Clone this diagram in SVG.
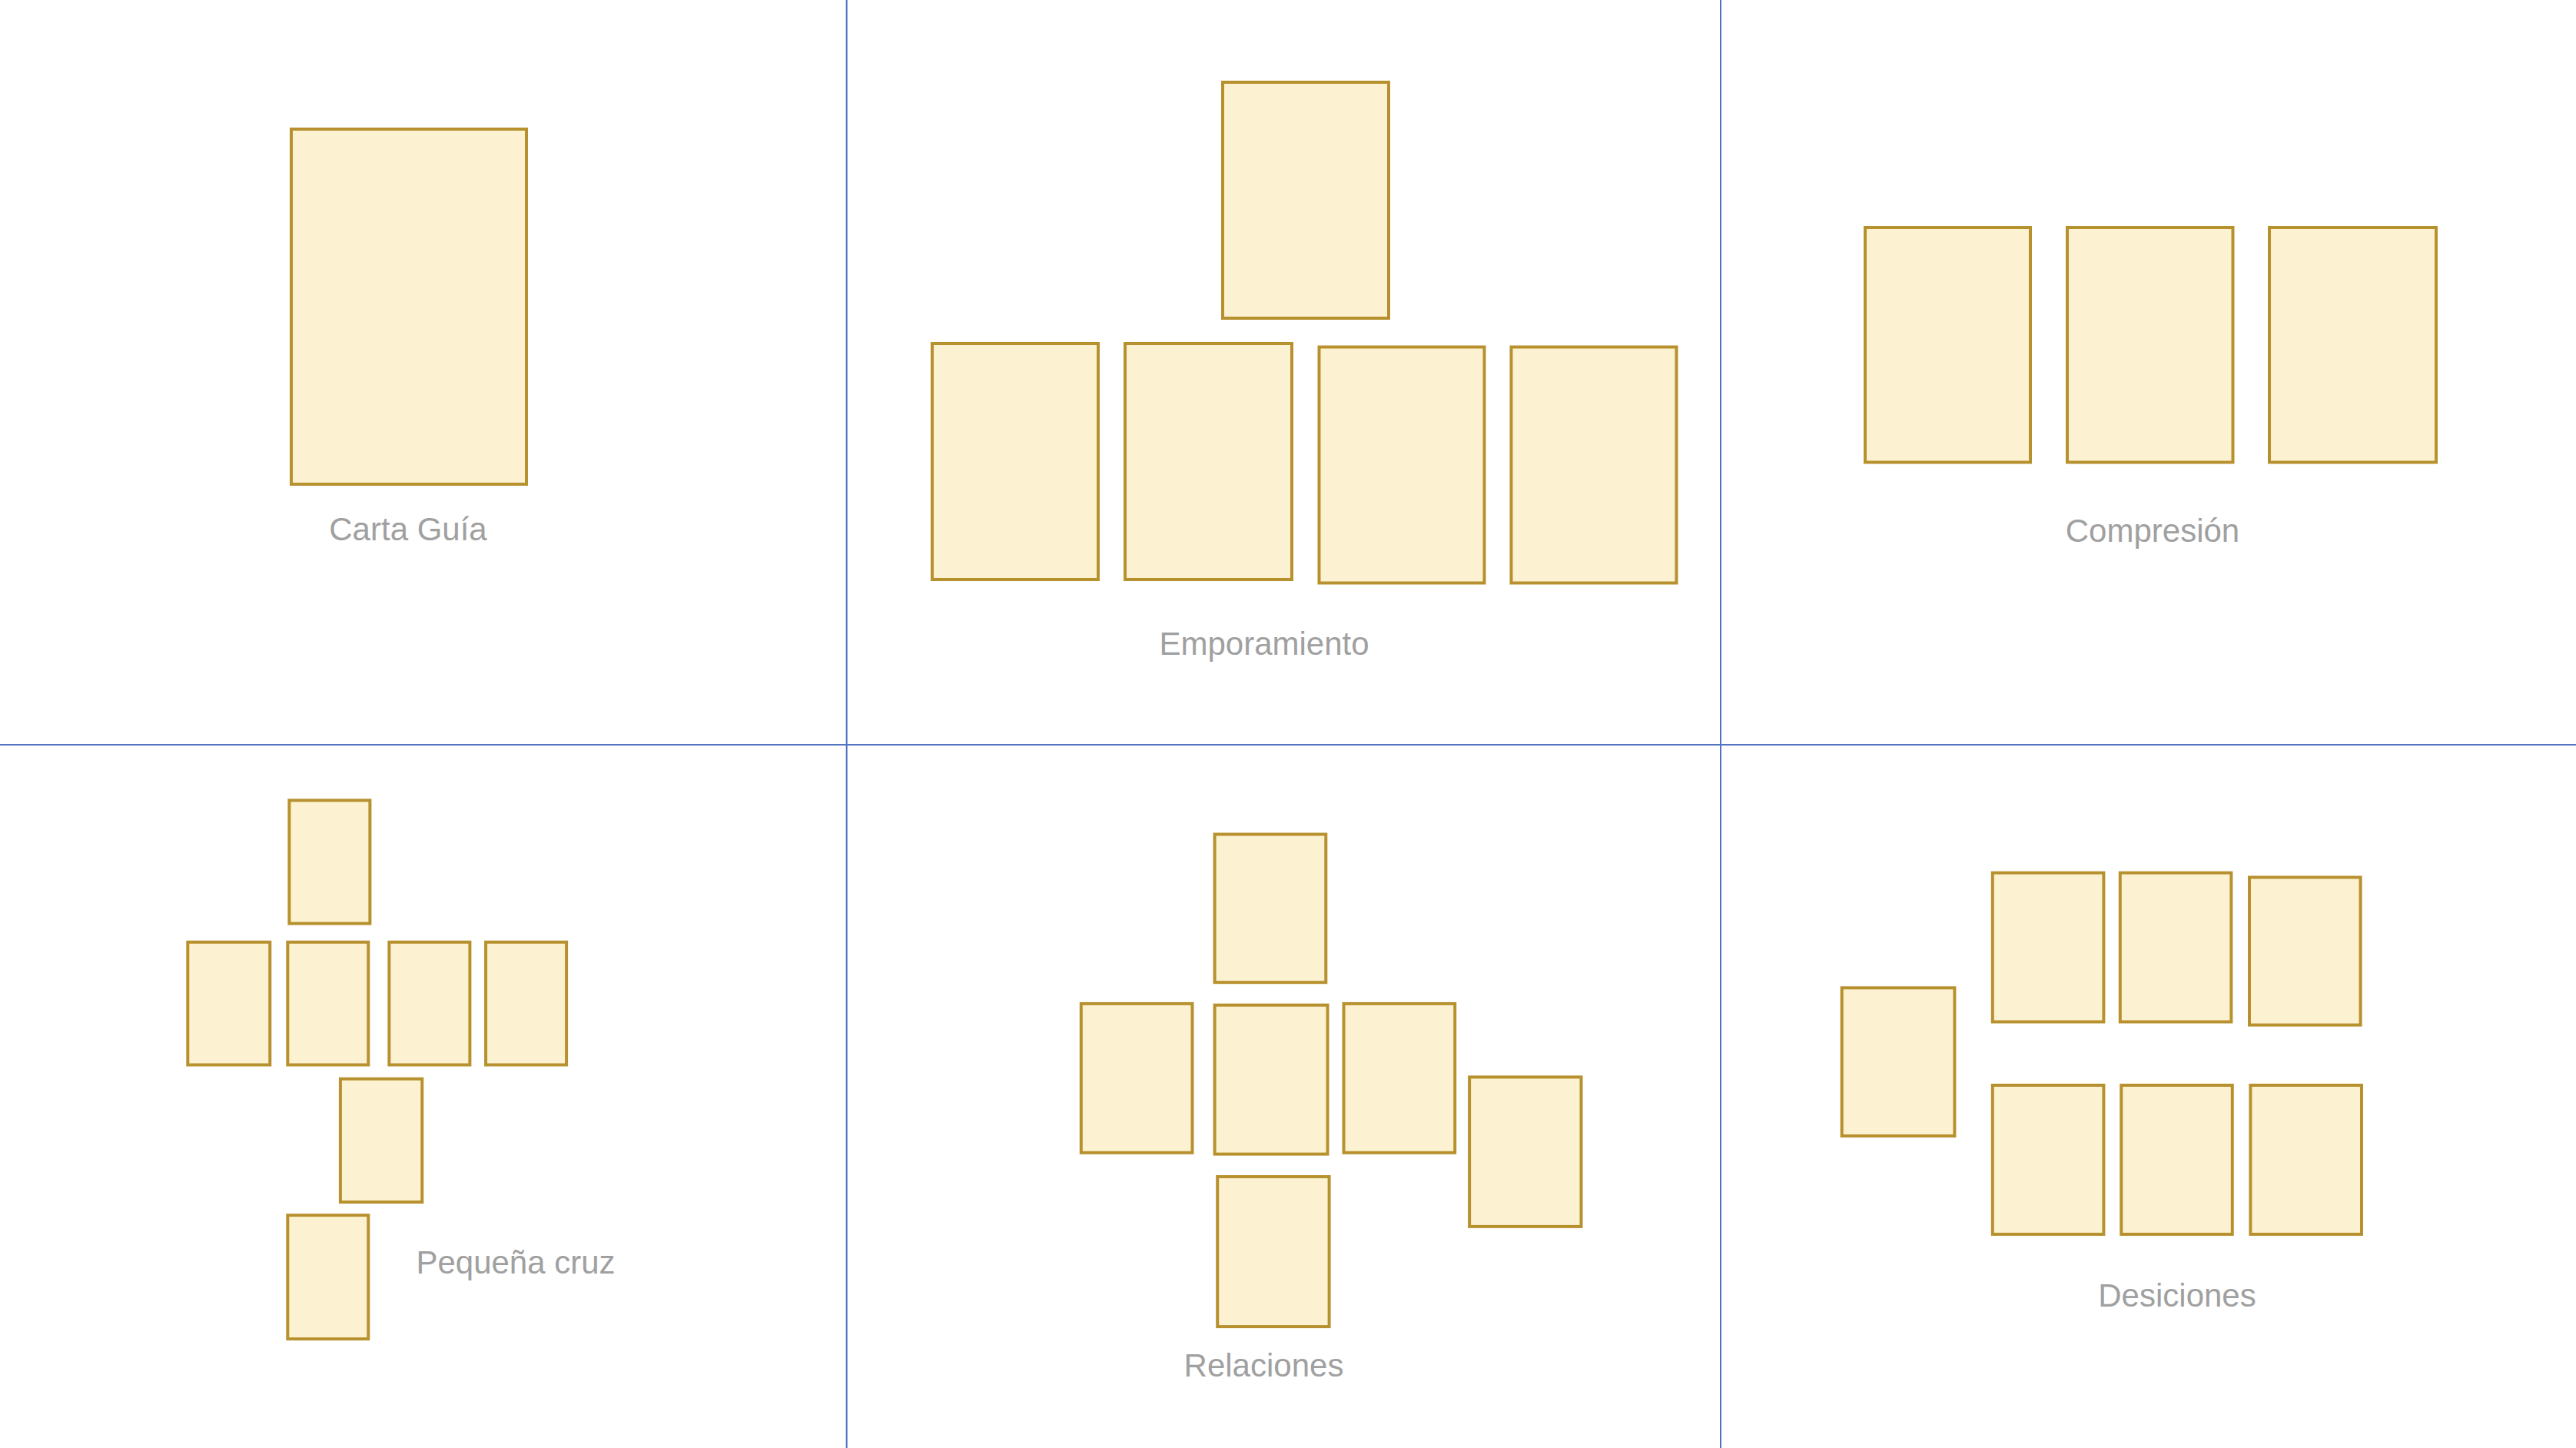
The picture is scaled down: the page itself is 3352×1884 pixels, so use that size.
<svg xmlns="http://www.w3.org/2000/svg" width="3352" height="1884" viewBox="0 0 3352 1884">
<style>
.card{fill:#FCF2D1;stroke:#B8912F;stroke-width:4}
.div{stroke:#5274C2;stroke-width:2;fill:none}
.lbl{font-family:"Liberation Sans",Arial,sans-serif;font-size:42px;fill:#A0A0A0;text-anchor:middle}
</style>
<rect width="3352" height="1884" fill="#FFFFFF"/>
<g id="connectors">
<line class="div" x1="1101.7" y1="0" x2="1101.7" y2="1884"/>
<line class="div" x1="2239" y1="0" x2="2239" y2="1884"/>
<line class="div" x1="0" y1="969" x2="3352" y2="969"/>
</g>
<g id="carta-guia">
<rect class="card" x="379" y="168" width="306" height="462"/>
<text class="lbl" x="531" y="703">Carta Guía</text>
</g>
<g id="emporamiento">
<rect class="card" x="1591" y="107" width="216" height="307"/>
<rect class="card" x="1213" y="447" width="216" height="307"/>
<rect class="card" x="1464" y="447" width="217" height="307"/>
<rect class="card" x="1716.5" y="451.5" width="215" height="307"/>
<rect class="card" x="1966.5" y="451.5" width="215" height="307"/>
<text class="lbl" x="1645" y="852">Emporamiento</text>
</g>
<g id="compresion">
<rect class="card" x="2427" y="296" width="215" height="305.5"/>
<rect class="card" x="2690" y="296" width="215.5" height="305.5"/>
<rect class="card" x="2953" y="296" width="217" height="305.5"/>
<text class="lbl" x="2801" y="705">Compresión</text>
</g>
<g id="pequena-cruz">
<rect class="card" x="376.4" y="1041.3" width="105" height="160.3"/>
<rect class="card" x="244.3" y="1225.8" width="107" height="159.7"/>
<rect class="card" x="374.3" y="1225.8" width="105" height="159.7"/>
<rect class="card" x="506.4" y="1225.8" width="105" height="159.7"/>
<rect class="card" x="632.1" y="1225.8" width="105" height="159.7"/>
<rect class="card" x="442.9" y="1403.7" width="106.4" height="160.3"/>
<rect class="card" x="374.3" y="1581.1" width="105" height="161"/>
<text class="lbl" x="671" y="1656.6">Pequeña cruz</text>
</g>
<g id="relaciones">
<rect class="card" x="1580.6" y="1085.5" width="144.7" height="192.7"/>
<rect class="card" x="1406.8" y="1305.9" width="144.7" height="193.9"/>
<rect class="card" x="1580.6" y="1307.7" width="146.9" height="193.9"/>
<rect class="card" x="1748.5" y="1305.9" width="144.7" height="193.9"/>
<rect class="card" x="1912.1" y="1401.4" width="145.4" height="194.5"/>
<rect class="card" x="1584.2" y="1531" width="145.4" height="195.1"/>
<text class="lbl" x="1644.5" y="1791">Relaciones</text>
</g>
<g id="desiciones">
<rect class="card" x="2396.7" y="1285.3" width="146.7" height="192.7"/>
<rect class="card" x="2592.8" y="1135.6" width="144.6" height="193.9"/>
<rect class="card" x="2758.8" y="1135.6" width="144.6" height="193.9"/>
<rect class="card" x="2927" y="1141.5" width="144.6" height="192.1"/>
<rect class="card" x="2592.8" y="1412" width="144.6" height="193.9"/>
<rect class="card" x="2760.3" y="1412" width="144.5" height="193.9"/>
<rect class="card" x="2928.4" y="1412" width="144.6" height="193.9"/>
<text class="lbl" x="2833" y="1700">Desiciones</text>
</g>
</svg>
